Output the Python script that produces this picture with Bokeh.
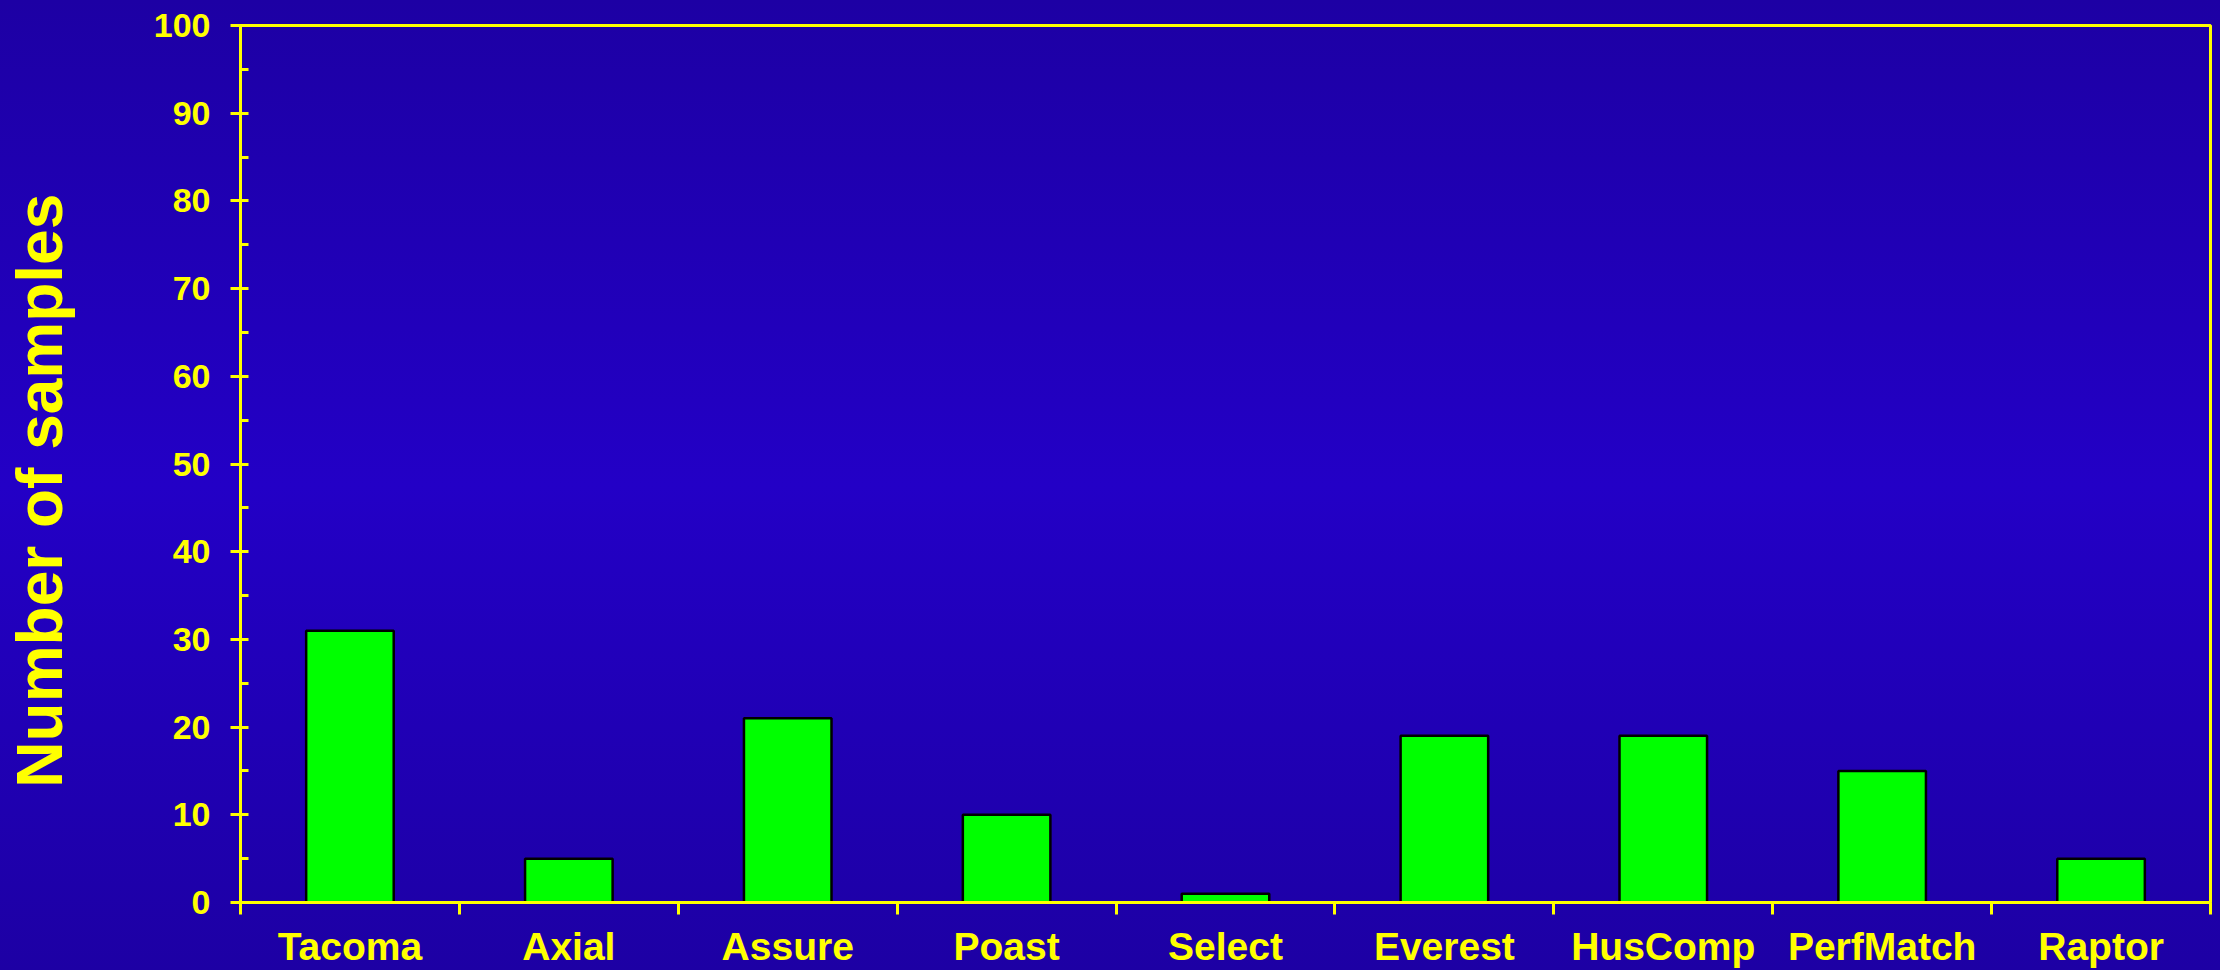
from bokeh.plotting import figure
from bokeh.models import FixedTicker, Range1d
from bokeh.embed import file_html
from bokeh.resources import INLINE

categories = ["Tacoma", "Axial", "Assure", "Poast", "Select", "Everest", "HusComp", "PerfMatch", "Raptor"]
samples = [31, 5, 21, 10, 1, 19, 19, 15, 5]
y_ticks = [0, 10, 20, 30, 40, 50, 60, 70, 80, 90, 100]
y_minor = [5, 15, 25, 35, 45, 55, 65, 75, 85, 95]
y_title = "Number of samples"

YEL = "#ffff00"
FONT = "Liberation Sans"

centers = [i + 0.5 for i in range(len(categories))]
bounds = list(range(len(categories) + 1))

p = figure(width=2220, height=970, output_backend="svg", toolbar_location=None,
           x_range=Range1d(0, len(categories)), y_range=Range1d(0, 100),
           min_border_left=240, min_border_right=10, min_border_top=25, min_border_bottom=66)
p.background_fill_color = None
p.border_fill_color = None
p.styles = {"background": "linear-gradient(180deg, #1d00a4 0%, #2300c6 50%, #1d00a4 100%)",
            "box-shadow": "0 0 0 8px #1d00a4"}
p.outline_line_color = YEL
p.outline_line_width = 3
p.grid.visible = False

p.vbar(x=centers, top=samples, width=0.4, fill_color="#00ff00", line_color="black", line_width=2.5)

ya = p.yaxis[0]
ya.ticker = FixedTicker(ticks=y_ticks, minor_ticks=y_minor)
ya.axis_line_color = YEL
ya.axis_line_width = 3
ya.major_tick_line_color = YEL
ya.major_tick_line_width = 3
ya.major_tick_out = 10
ya.major_tick_in = 8
ya.minor_tick_line_color = YEL
ya.minor_tick_line_width = 3
ya.minor_tick_out = 0
ya.minor_tick_in = 8
ya.major_label_text_color = YEL
ya.major_label_text_font = FONT
ya.major_label_text_font_style = "bold"
ya.major_label_text_font_size = "34px"
ya.major_label_standoff = 20
# trailing no-break spaces nudge the centred title slightly downward, as in the reference
ya.axis_label = y_title + "\u00a0\u00a0\u00a0"
ya.axis_label_text_color = YEL
ya.axis_label_text_font = FONT
ya.axis_label_text_font_style = "bold"
ya.axis_label_text_font_size = "64px"
ya.axis_label_standoff = 75

xa = p.xaxis[0]
xa.ticker = FixedTicker(ticks=centers, minor_ticks=bounds)
xa.major_label_overrides = {c: n for c, n in zip(centers, categories)}
xa.axis_line_color = YEL
xa.axis_line_width = 3
xa.major_tick_out = 0
xa.major_tick_in = 0
xa.minor_tick_line_color = YEL
xa.minor_tick_line_width = 3
xa.minor_tick_out = 12
xa.minor_tick_in = 0
xa.major_label_text_color = YEL
xa.major_label_text_font = FONT
xa.major_label_text_font_style = "bold"
xa.major_label_text_font_size = "39px"
xa.major_label_standoff = 10

open("out.html", "w").write(file_html(p, INLINE))
